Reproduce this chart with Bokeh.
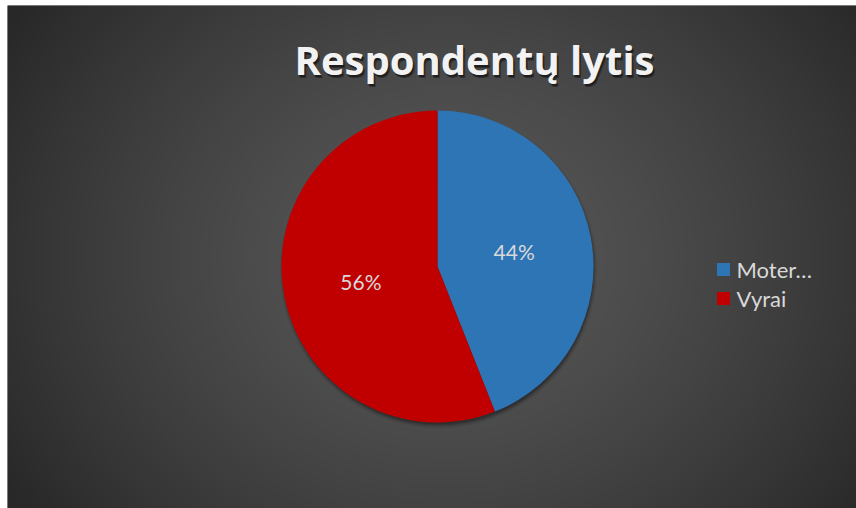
import numpy as np
from bokeh.plotting import figure
from bokeh.models import ColumnDataSource, Range1d
from bokeh.core.properties import value
from bokeh.embed import file_html
from bokeh.resources import INLINE

# ---- data ----
categories = ["Moterys", "Vyrai"]
legend_labels = ["Moter…", "Vyrai"]
shares = [0.44, 0.56]
pct_labels = ["44%", "56%"]
colors = ["#2E75B6", "#C00000"]
title_text = "Respondentų lytis"

FW, FH = 849, 503
p = figure(width=856, height=508, output_backend="svg", toolbar_location=None,
           x_range=Range1d(0, FW), y_range=Range1d(0, FH),
           min_border_left=7, min_border_top=5, min_border_right=0,
           min_border_bottom=0)
p.axis.visible = False
p.grid.visible = False
p.outline_line_color = None
p.background_fill_color = "#2a2a2a"
p.border_fill_color = "white"

# radial gradient background (style)
yy, xx = np.mgrid[0:FH, 0:FW]
cx, cy = 440, 250
d = np.sqrt(((xx - cx) / 1.0) ** 2 + ((yy - cy) / 0.85) ** 2) / 520.0
d = np.clip(d, 0, 1)
c = (88 - 48 * d ** 1.4).astype(np.uint32)
img = (255 << 24) | (c << 16) | (c << 8) | c
p.image_rgba(image=[img.astype(np.uint32)], x=0, y=0, dw=FW, dh=FH)

# pie geometry
pcx, pcy, R = 430, 242, 156
cum = np.concatenate([[0], np.cumsum(shares)])
start = [np.pi / 2 - cum[i] * 2 * np.pi for i in range(len(shares))]
end = [np.pi / 2 - cum[i + 1] * 2 * np.pi for i in range(len(shares))]
mid = [(s + e) / 2 for s, e in zip(start, end)]
src = ColumnDataSource(dict(cat=categories, share=shares, start=start, end=end,
                            color=colors, label=pct_labels,
                            lx=[pcx + 0.5 * R * np.cos(m) for m in mid],
                            ly=[pcy + 0.5 * R * np.sin(m) for m in mid]))

# soft shadow under pie
for k, a in zip([1, 2, 3, 4, 5], [0.14, 0.11, 0.08, 0.05, 0.03]):
    p.circle(x=pcx + 1, y=pcy - 3, radius=R + k - 2, fill_color="black",
             fill_alpha=a, line_color=None)

p.wedge(x=pcx, y=pcy, radius=R, start_angle="start", end_angle="end",
        direction="clock", fill_color="color", line_color=None, source=src)

p.text(x="lx", y="ly", text="label", source=src, text_align="center",
       text_baseline="middle", text_color="#D9D9D9",
       text_font=value("Lato"), text_font_size="21px")

# title with shadow
TX, TY = 467, 449
for dx, dy, col, al in [(2, -3, "black", 0.35), (1, -2, "black", 0.35)]:
    p.text(x=[TX + dx], y=[TY + dy], text=[title_text], text_align="center",
           text_baseline="alphabetic", text_color=col, text_alpha=al,
           text_font=value("Open Sans"), text_font_style="bold",
           text_font_size="40px")
p.text(x=[TX], y=[TY], text=[title_text], text_align="center",
       text_baseline="alphabetic", text_color="#F2F2F2",
       text_font=value("Open Sans"), text_font_style="bold",
       text_font_size="40px")

# legend
lg_y = [239 - 29 * i for i in range(len(categories))]
lsrc = ColumnDataSource(dict(x=[716] * len(categories), y=lg_y, color=colors,
                             tx=[729] * len(categories), label=legend_labels))
p.scatter(x="x", y="y", marker="square", size=13, fill_color="color",
          line_color=None, source=lsrc)
p.text(x="tx", y="y", text="label", source=lsrc, text_align="left",
       text_baseline="middle", text_color="#D9D9D9",
       text_font=value("Lato"), text_font_size="22px")

open("out.html", "w").write(file_html(p, INLINE))
